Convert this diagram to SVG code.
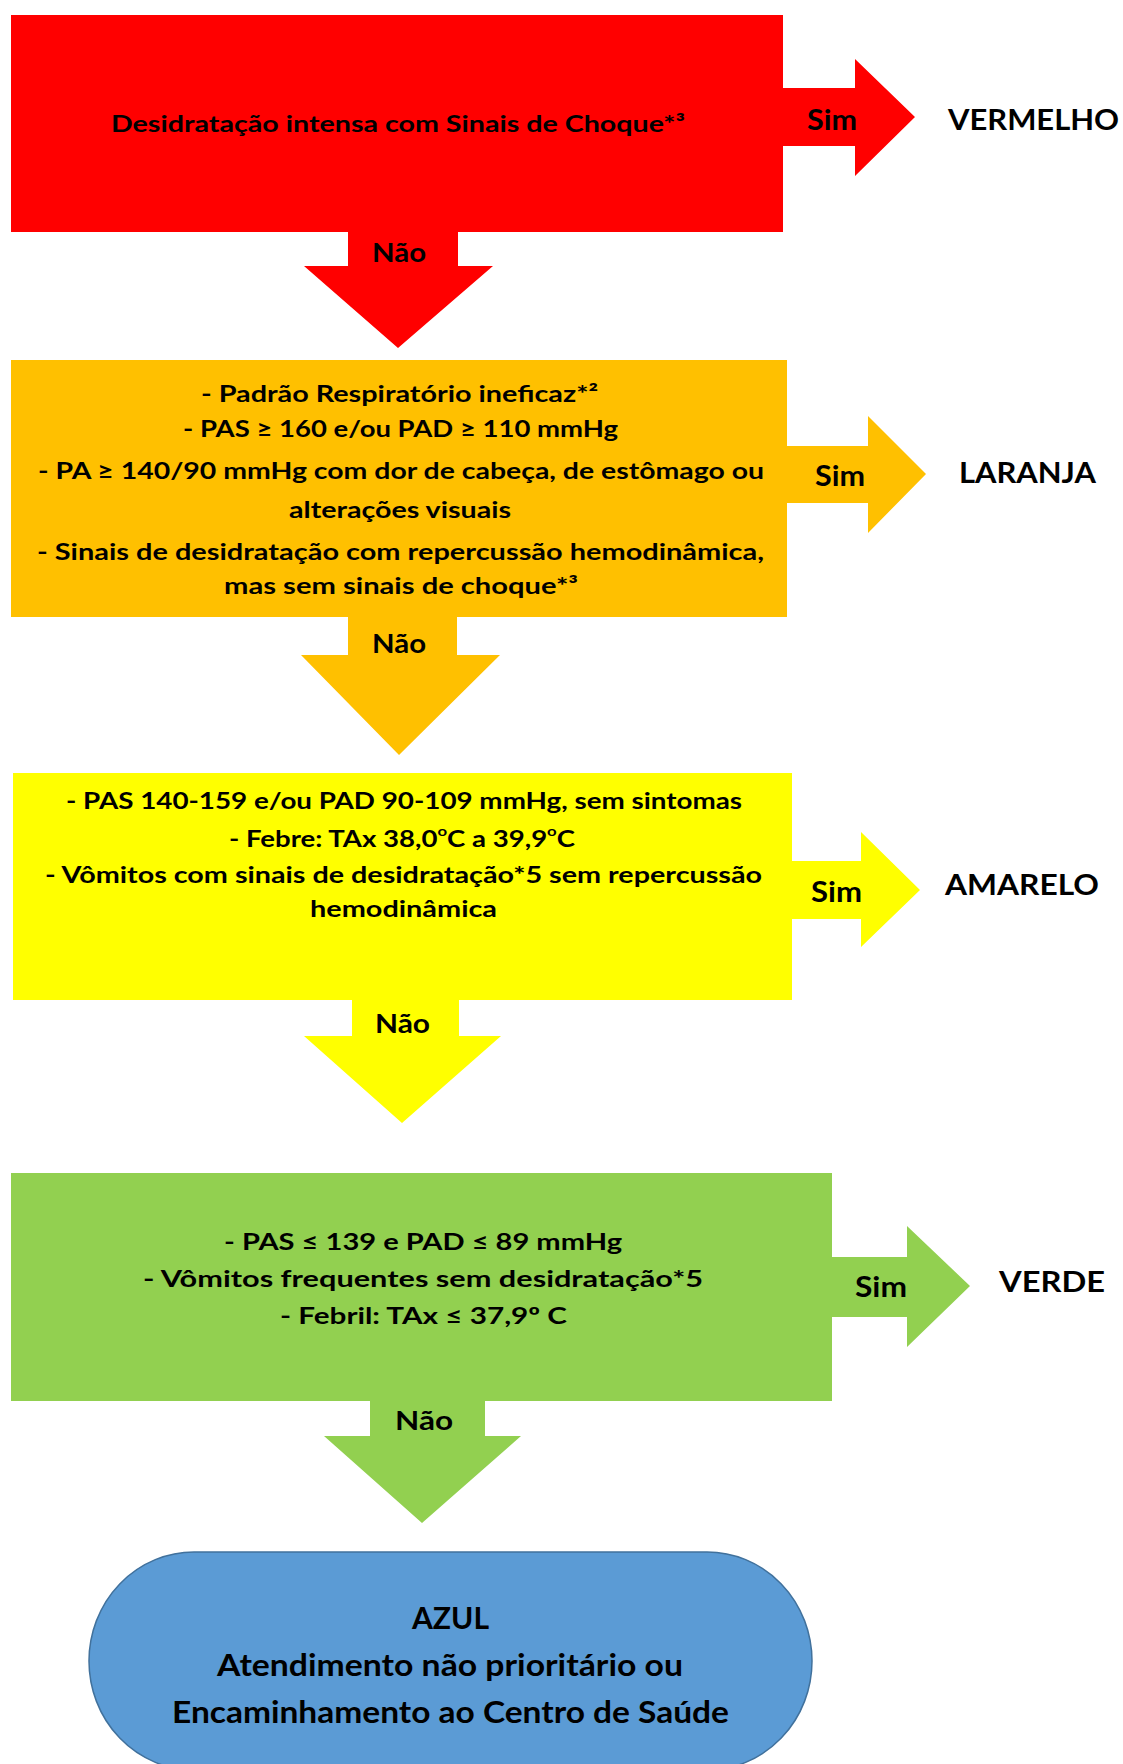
<svg xmlns="http://www.w3.org/2000/svg" width="1123" height="1764" viewBox="0 0 1123 1764">
  <style>
    .t { font-family: Lato, "Liberation Sans", Arial, sans-serif; font-weight: bold; fill: #000; }
    .body { font-size: 23px; }
    .lbl { font-size: 29px; }
    .nao { font-size: 27px; }
    .end { font-size: 30px; }
    .sup { font-size: 14px; }
    .red { fill: #ff0000; }
    .orange { fill: #ffc000; }
    .yellow { fill: #ffff00; }
    .green { fill: #92d050; }
  </style>
  <rect width="1123" height="1764" fill="#ffffff"/>

  <!-- connectors: block arrows (Sim to the right, Não downward) -->
  <g id="connectors">
    <polygon class="red" points="777,88 855,88 855,59 915,117 855,176 855,146 777,146"/>
    <polygon class="red" points="348,226 458,226 458,266 493,266 398,348 304,266 348,266"/>
    <polygon class="orange" points="781,446 868,446 868,416 926,474 868,533 868,503 781,503"/>
    <polygon class="orange" points="348,611 457,611 457,655 500,655 399,755 301,655 348,655"/>
    <polygon class="yellow" points="786,861 861,861 861,832 920,890 861,947 861,919 786,919"/>
    <polygon class="yellow" points="352,994 459,994 459,1036 501,1036 402,1123 304,1036 352,1036"/>
    <polygon class="green" points="826,1257 907,1257 907,1226 970,1286 907,1347 907,1317 826,1317"/>
    <polygon class="green" points="370,1395 485,1395 485,1436 521,1436 422,1523 324,1436 370,1436"/>

    <text class="t lbl" x="807" y="130" textLength="50" lengthAdjust="spacingAndGlyphs">Sim</text>
    <text class="t nao" x="372" y="262" textLength="54" lengthAdjust="spacingAndGlyphs">Não</text>
    <text class="t lbl" x="815" y="486" textLength="50" lengthAdjust="spacingAndGlyphs">Sim</text>
    <text class="t nao" x="372" y="653" textLength="54" lengthAdjust="spacingAndGlyphs">Não</text>
    <text class="t lbl" x="811" y="902" textLength="51" lengthAdjust="spacingAndGlyphs">Sim</text>
    <text class="t nao" x="375" y="1033" textLength="55" lengthAdjust="spacingAndGlyphs">Não</text>
    <text class="t lbl" x="855" y="1297" textLength="52" lengthAdjust="spacingAndGlyphs">Sim</text>
    <text class="t nao" x="395" y="1430" textLength="58" lengthAdjust="spacingAndGlyphs">Não</text>
  </g>

  <!-- red step -->
  <g id="node-red">
    <rect class="red" x="11" y="15" width="772" height="217"/>
    <text class="t body" x="111" y="132" textLength="574" lengthAdjust="spacingAndGlyphs">Desidratação intensa com Sinais de Choque*³</text>
  </g>
  <g id="out-vermelho">
    <text class="t lbl" x="948" y="130" textLength="171" lengthAdjust="spacingAndGlyphs">VERMELHO</text>
  </g>

  <!-- orange step -->
  <g id="node-orange">
    <rect class="orange" x="11" y="360" width="776" height="257"/>
    <text class="t body" x="201" y="402" textLength="397" lengthAdjust="spacingAndGlyphs">- Padrão Respiratório ineficaz*²</text>
    <text class="t body" x="183" y="437" textLength="435" lengthAdjust="spacingAndGlyphs">- PAS ≥ 160 e/ou PAD ≥ 110 mmHg</text>
    <text class="t body" x="38" y="479" textLength="726" lengthAdjust="spacingAndGlyphs">- PA ≥ 140/90 mmHg com dor de cabeça, de estômago ou</text>
    <text class="t body" x="289" y="518" textLength="222" lengthAdjust="spacingAndGlyphs">alterações visuais</text>
    <text class="t body" x="37" y="560" textLength="727" lengthAdjust="spacingAndGlyphs">- Sinais de desidratação com repercussão hemodinâmica,</text>
    <text class="t body" x="224" y="594" textLength="354" lengthAdjust="spacingAndGlyphs">mas sem sinais de choque*³</text>
  </g>
  <g id="out-laranja">
    <text class="t lbl" x="959" y="483" textLength="137" lengthAdjust="spacingAndGlyphs">LARANJA</text>
  </g>

  <!-- yellow step -->
  <g id="node-yellow">
    <rect class="yellow" x="13" y="773" width="779" height="227"/>
    <text class="t body" x="66" y="809" textLength="676" lengthAdjust="spacingAndGlyphs">- PAS 140-159 e/ou PAD 90-109 mmHg, sem sintomas</text>
    <text class="t body" x="229" y="847" textLength="346" lengthAdjust="spacingAndGlyphs">- Febre: TAx 38,0<tspan class="sup" dy="-11">o</tspan><tspan dy="11">C a 39,9</tspan><tspan class="sup" dy="-11">o</tspan><tspan dy="11">C</tspan></text>
    <text class="t body" x="45" y="883" textLength="717" lengthAdjust="spacingAndGlyphs">- Vômitos com sinais de desidratação*5 sem repercussão</text>
    <text class="t body" x="310" y="917" textLength="187" lengthAdjust="spacingAndGlyphs">hemodinâmica</text>
  </g>
  <g id="out-amarelo">
    <text class="t lbl" x="945" y="895" textLength="154" lengthAdjust="spacingAndGlyphs">AMARELO</text>
  </g>

  <!-- green step -->
  <g id="node-green">
    <rect class="green" x="11" y="1173" width="821" height="228"/>
    <text class="t body" x="224" y="1250" textLength="398" lengthAdjust="spacingAndGlyphs">- PAS ≤ 139 e PAD ≤ 89 mmHg</text>
    <text class="t body" x="143" y="1287" textLength="560" lengthAdjust="spacingAndGlyphs">- Vômitos frequentes sem desidratação*5</text>
    <text class="t body" x="280" y="1324" textLength="287" lengthAdjust="spacingAndGlyphs">- Febril: TAx ≤ 37,9º C</text>
  </g>
  <g id="out-verde">
    <text class="t lbl" x="999" y="1292" textLength="106" lengthAdjust="spacingAndGlyphs">VERDE</text>
  </g>

  <!-- blue terminator -->
  <g id="node-azul">
    <rect x="89" y="1552" width="723" height="218" rx="105" ry="109" fill="#5b9bd5" stroke="#41719c" stroke-width="1.5"/>
    <text class="t end" x="412" y="1629" textLength="77" lengthAdjust="spacingAndGlyphs">AZUL</text>
    <text class="t end" x="217" y="1676" textLength="466" lengthAdjust="spacingAndGlyphs">Atendimento não prioritário ou</text>
    <text class="t end" x="172" y="1723" textLength="557" lengthAdjust="spacingAndGlyphs">Encaminhamento ao Centro de Saúde</text>
  </g>
</svg>
